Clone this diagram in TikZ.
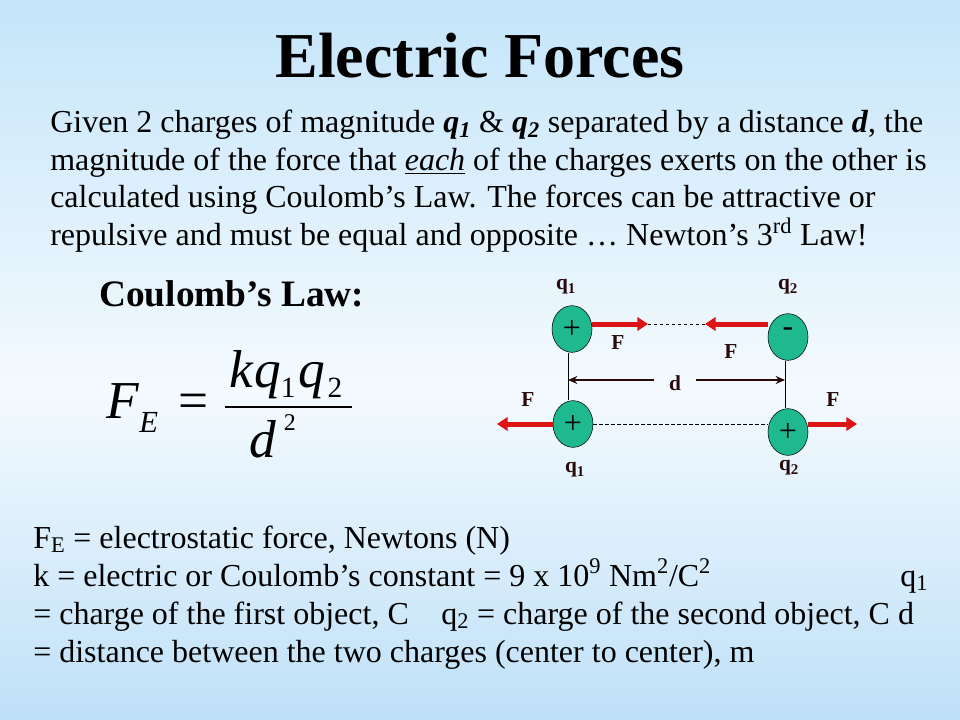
\documentclass[tikz,border=0pt]{standalone}
\usepackage{fontspec}
\setmainfont{Liberation Serif}
\usepackage{xcolor}
\usetikzlibrary{shapes.geometric,arrows.meta}

\definecolor{chargegreen}{RGB}{30,185,145}
\definecolor{forcered}{RGB}{220,20,20}
\definecolor{labelbrown}{RGB}{40,10,10}
\definecolor{bgtop}{RGB}{197,229,250}
\definecolor{bgmid}{RGB}{244,250,254}
\definecolor{bgbot}{RGB}{190,224,248}

\begin{document}
\begin{tikzpicture}[x=0.75pt,y=-0.75pt,
    charge/.style={ellipse, draw=black, fill=chargegreen, minimum width=30pt, minimum height=35pt, inner sep=0pt, font=\fontsize{24}{24}\selectfont},
    lbl/.style={inner sep=0pt, text=labelbrown, font=\fontsize{16}{16}\selectfont\bfseries},
    force/.style={-{Triangle[length=8pt,width=10pt]}, line width=3.75pt, draw=forcered},
    dim/.style={-{Stealth[length=7pt,width=6pt]}, line width=1.2pt, draw=labelbrown},
    body/.style={anchor=base west, inner sep=0pt, font=\fontsize{24}{24}\selectfont},
    eqn/.style={anchor=base west, inner sep=0pt, font=\fontsize{40}{40}\selectfont\itshape}]
    \useasboundingbox (0,0) rectangle (960,720);
    % Background
    \fill[top color=bgtop, bottom color=bgmid] (0,0) rectangle (960,390);
    \fill[top color=bgmid, bottom color=bgbot] (0,390) rectangle (960,720);

    % Text
    \node[anchor=base, inner sep=0pt, font=\fontsize{48}{48}\selectfont\bfseries] (title) at (480,78) {Electric Forces};
    \node[body] (txt1) at (50,133) {Given 2 charges of magnitude \textbf{\textit{q\textsubscript{1}}} \& \textbf{\textit{q\textsubscript{2}}} separated by a distance \textbf{\textit{d}}, the};
    \node[body] (txt2) at (50,171) {magnitude of the force that \underline{\textit{each}} of the charges exerts on the other is};
    \node[body] (txt3) at (50,208) {calculated using Coulomb’s Law. The forces can be attractive or};
    \node[body] (txt4) at (50,246) {repulsive and must be equal and opposite … Newton’s 3\textsuperscript{rd} Law!};
    \node[anchor=base west, inner sep=0pt, font=\fontsize{28}{28}\selectfont\bfseries] (law) at (99,306) {Coulomb’s Law:};

    % Formula
    \node[eqn] (F) at (106,418) {F};
    \node[anchor=base west, inner sep=0pt, font=\fontsize{23}{23}\selectfont\itshape] (E) at (139,432) {E};
    \node[anchor=base west, inner sep=0pt, font=\fontsize{40}{40}\selectfont] (eq) at (178,418) {=};
    \node[eqn] (num) at (229,387) {k\kern1pt q\raisebox{-8pt}{\fontsize{22}{22}\selectfont\upshape 1}\kern2pt q\kern2pt\raisebox{-8pt}{\fontsize{22}{22}\selectfont\upshape 2}};
    \node[eqn] (den) at (249,457) {d\kern6pt\raisebox{20pt}{\fontsize{18}{18}\selectfont\upshape 2}};
    \coordinate (barL) at (225,407);
    \coordinate (barR) at (352,407);
    \draw[line width=2.2pt] (barL) -- (barR);

    % Legend
    \node[body] (leg1) at (33,548) {F\textsubscript{E} = electrostatic force, Newtons (N)};
    \node[body] (leg2) at (33,586) {k = electric or Coulomb’s constant = 9 x 10\textsuperscript{9} Nm\textsuperscript{2}/C\textsuperscript{2}};
    \node[body] (leg2q) at (900,586) {q\textsubscript{1}};
    \node[body] (leg3) at (33,624) {= charge of the first object, C};
    \node[body] (leg3q) at (441,624) {q\textsubscript{2} = charge of the second object, C d};
    \node[body] (leg4) at (33,662) {= distance between the two charges (center to center), m};

    % Charges
    \node[charge] (q1a) at (572,329) {+};
    \node[charge] (q2a) at (788,337) {\raisebox{8pt}{-}};
    \node[charge] (q1b) at (573,424) {+};
    \node[charge] (q2b) at (788,432) {+};
    \node[lbl] (lq1a) at (566,287) {q\textsubscript{1}};
    \node[lbl] (lq2a) at (788,287) {q\textsubscript{2}};
    \node[lbl] (lq1b) at (575,470) {q\textsubscript{1}};
    \node[lbl] (lq2b) at (789,468) {q\textsubscript{2}};
    \node[lbl] (Fa) at (618,343) {F};
    \node[lbl] (Fb) at (731,352) {F};
    \node[lbl] (Fc) at (528,400) {F};
    \node[lbl] (Fd) at (833,400) {F};
    \node[lbl, minimum width=31pt, minimum height=14pt] (d) at (675,383) {d};

    % Arrows
    \coordinate (f1) at (648,324);
    \coordinate (f2) at (705,324);
    \coordinate (f3) at (497,424);
    \coordinate (f4) at (857,424);
    \coordinate (dl) at (568,380);
    \coordinate (dr) at (785,380);
    \draw[force] (q1a.east |- f1) -- (f1);
    \draw[force] (q2a.west |- f2) -- (f2);
    \draw[force] (q1b.west) -- (f3);
    \draw[force] (q2b.east |- f4) -- (f4);
    \draw[dashed, dash pattern=on 2.5pt off 2pt, line width=0.5pt] (f1) -- (f2);
    \draw[dashed, dash pattern=on 2.5pt off 2pt, line width=0.5pt] (q1b.east) -- (q2b.west |- q1b.east);
    \draw[line width=0.75pt] (dl |- q1a.south) -- (dl |- q1b.north);
    \draw[line width=0.75pt] (dr |- q2a.south) -- (dr |- q2b.north);
    \draw[dim] (d.west |- dl) -- (dl);
    \draw[dim] (d.east |- dr) -- (dr);
\end{tikzpicture}
\end{document}
